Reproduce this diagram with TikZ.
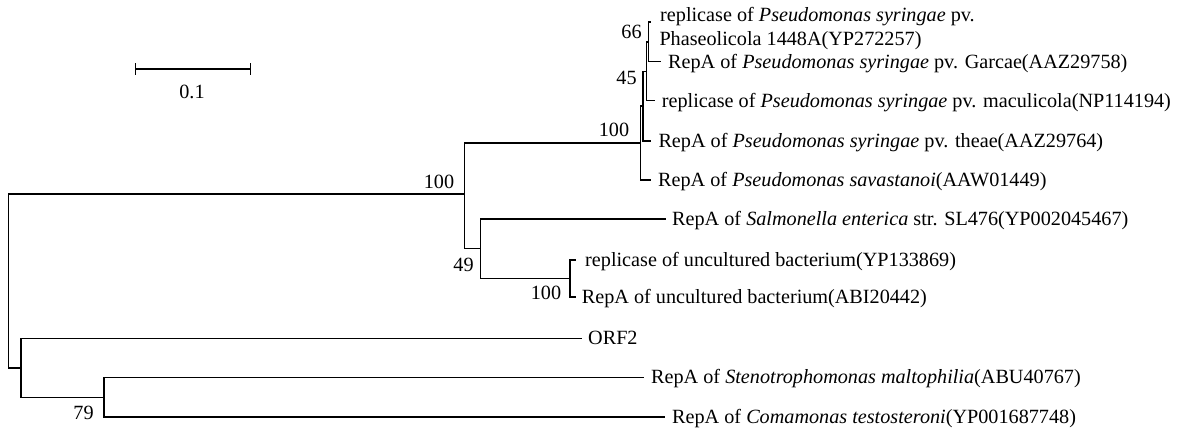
\documentclass[tikz,border=0pt]{standalone}
\usepackage{fontspec}
\setmainfont{Liberation Serif}
\begin{document}
\begin{tikzpicture}[x=1pt,y=-1pt,
  branch/.style={line width=1.4pt, line cap=rect},
  leaf/.style={anchor=base west, inner sep=0pt, yshift=-6.6pt, font=\fontsize{20.2}{24}\selectfont},
  support/.style={inner sep=0pt, font=\fontsize{20.2}{24}\selectfont},
]
\useasboundingbox (0,0) rectangle (1178,432);
% leaf tips
\coordinate (L1) at (650,22);
\coordinate (Lg) at (660,61.7);
\coordinate (Lm) at (654.3,100.7);
\coordinate (Lt) at (650,141);
\coordinate (Ls) at (650,180);
\coordinate (Lsal) at (665,219);
\coordinate (Lu1) at (575,260);
\coordinate (Lu2) at (575,297);
\coordinate (Lo) at (581,338.3);
\coordinate (Lst) at (643,377.3);
\coordinate (Lc) at (664,417);
% internal nodes
\coordinate (A) at (648.5,41.9);
\coordinate (B) at (646.5,71.3);
\coordinate (D) at (643,106);
\coordinate (C) at (640.7,143);
\coordinate (U) at (570,278.5);
\coordinate (N49) at (480.3,248.7);
\coordinate (N100) at (464.3,194);
\coordinate (N79) at (104,397.2);
\coordinate (Nlow) at (21,367.8);
\coordinate (R) at (8.3,281);
% branches
\draw[branch] (L1) -| (A) |- (Lg);
\draw[branch] (A) -| (B) |- (Lm);
\draw[branch] (B) -| (D) |- (Lt);
\draw[branch] (D) -| (C) |- (Ls);
\draw[branch] (Lu1) -| (U) |- (Lu2);
\draw[branch] (Lsal) -| (N49) |- (U);
\draw[branch] (C) -| (N100) |- (N49);
\draw[branch] (Lst) -| (N79) |- (Lc);
\draw[branch] (Lo) -| (Nlow) |- (N79);
\draw[branch] (N100) -| (R) |- (Nlow);
% leaf labels
\node[leaf] (t1a) at (660,15) {replicase of \textit{Pseudomonas syringae} pv.};
\node[leaf] (t1b) at (659.3,39) {Phaseolicola 1448A(YP272257)};
\node[leaf] (tg) at ([xshift=8pt]Lg) {RepA of \textit{Pseudomonas syringae} pv. Garcae(AAZ29758)};
\node[leaf] (tm) at ([xshift=7.4pt]Lm) {replicase of \textit{Pseudomonas syringae} pv. maculicola(NP114194)};
\node[leaf] (tt) at ([xshift=8.3pt]Lt) {RepA of \textit{Pseudomonas syringae} pv. theae(AAZ29764)};
\node[leaf] (ts) at ([xshift=8pt]Ls) {RepA of \textit{Pseudomonas savastanoi}(AAW01449)};
\node[leaf] (tsal) at ([xshift=7pt]Lsal) {RepA of \textit{Salmonella enterica} str. SL476(YP002045467)};
\node[leaf] (tu1) at ([xshift=10pt]Lu1) {replicase of uncultured bacterium(YP133869)};
\node[leaf] (tu2) at ([xshift=6.7pt]Lu2) {RepA of uncultured bacterium(ABI20442)};
\node[leaf] (to) at ([xshift=7pt]Lo) {ORF2};
\node[leaf] (tst) at ([xshift=8pt]Lst) {RepA of \textit{Stenotrophomonas maltophilia}(ABU40767)};
\node[leaf] (tc) at ([xshift=8pt]Lc) {RepA of \textit{Comamonas testosteroni}(YP001687748)};
% support values
\node[support] (s66) at (631.5,32) {66};
\node[support] (s45) at (626.5,78) {45};
\node[support] (s100a) at (614,130) {100};
\node[support] (s100b) at (439,181.5) {100};
\node[support] (s49) at (463.5,265) {49};
\node[support] (s100c) at (546,292.5) {100};
\node[support] (s79) at (83.5,413) {79};
% scale bar
\coordinate (sb1) at (135.7,69);
\coordinate (sb2) at (250.7,69);
\draw[branch, line cap=butt] (sb1) -- (sb2);
\draw[branch, line cap=butt] ([yshift=6pt]sb1) -- ([yshift=-6pt]sb1);
\draw[branch, line cap=butt] ([yshift=6pt]sb2) -- ([yshift=-6pt]sb2);
\node[support] (sbl) at (192,92.3) {0.1};
\end{tikzpicture}
\end{document}
